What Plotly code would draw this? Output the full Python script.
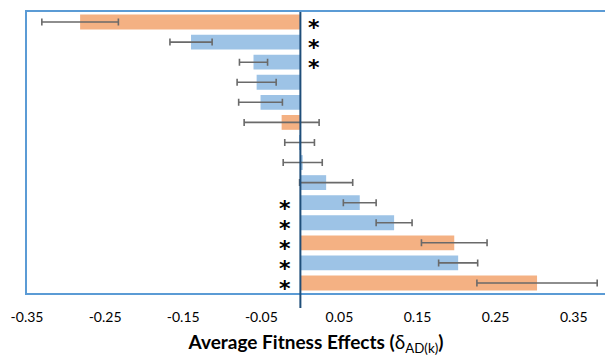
import plotly.graph_objects as go

# Data (top row first)
rows = list(range(1, 15))
values = [-0.282, -0.140, -0.060, -0.056, -0.051, -0.024, -0.001, 0.003,
          0.033, 0.076, 0.120, 0.197, 0.202, 0.303]
errors = [0.049, 0.027, 0.018, 0.025, 0.028, 0.048, 0.019, 0.025,
          0.034, 0.021, 0.023, 0.042, 0.025, 0.077]
groups = ["O", "B", "B", "B", "B", "O", "B", "B",
          "B", "B", "B", "O", "B", "O"]
significant = [True, True, True, False, False, False, False, False,
               False, True, True, True, True, True]
tick_vals = [-0.35, -0.25, -0.15, -0.05, 0.05, 0.15, 0.25, 0.35]
tick_text = ["-0.35", "-0.25", "-0.15", "-0.05", "0.05", "0.15", "0.25", "0.35"]

color_map = {"O": "#F4B183", "B": "#9DC3E6"}
FONT = "Lato, 'Open Sans', sans-serif"

fig = go.Figure()
fig.add_trace(go.Bar(
    y=rows, x=values, orientation="h",
    marker=dict(color=[color_map[g] for g in groups], line=dict(width=0)),
    error_x=dict(type="data", array=errors, visible=True,
                 color="#6a6a6a", thickness=1.6, width=3.5),
    width=0.74,
))

for r, v, s in zip(rows, values, significant):
    if s:
        fig.add_annotation(
            x=0, y=r, text="<b>*</b>", showarrow=False,
            xanchor="center", yanchor="middle",
            xshift=(14 if v < 0 else -15), yshift=-5,
            height=16, valign="middle",
            font=dict(family="DejaVu Sans", size=22, color="black"),
        )

fig.add_shape(type="line", xref="x", yref="paper", x0=0, x1=0,
              y0=-0.053, y1=1, line=dict(color="#1F4E79", width=2))

fig.update_layout(
    width=605, height=360,
    margin=dict(l=27, r=0, t=12, b=67, autoexpand=False),
    paper_bgcolor="white", plot_bgcolor="white",
    showlegend=False,
    font=dict(family=FONT, color="black"),
    xaxis=dict(
        range=[-0.35, 0.39], tickvals=tick_vals, ticktext=tick_text,
        automargin=False,
        showgrid=False, zeroline=False,
        showline=True, mirror=True, linecolor="#5B9BD5", linewidth=1.5,
        ticks="", ticklabelstandoff=10,
        tickfont=dict(family=FONT, size=14, color="black"),
        title=dict(text="<b>Average Fitness Effects (</b>δ<sub>AD(k)</sub><b>)</b>",
                   font=dict(family=FONT, size=19, color="black"), standoff=12),
    ),
    yaxis=dict(
        range=[14.5, 0.5], showticklabels=False, showgrid=False,
        automargin=False,
        zeroline=False, showline=True, mirror=False,
        linecolor="#5B9BD5", linewidth=1.5, ticks="",
    ),
)

fig.write_html(
    "out.html",
    config={"displayModeBar": False},
    post_script="document.body.style.margin='0';document.body.style.overflow='hidden';",
)
